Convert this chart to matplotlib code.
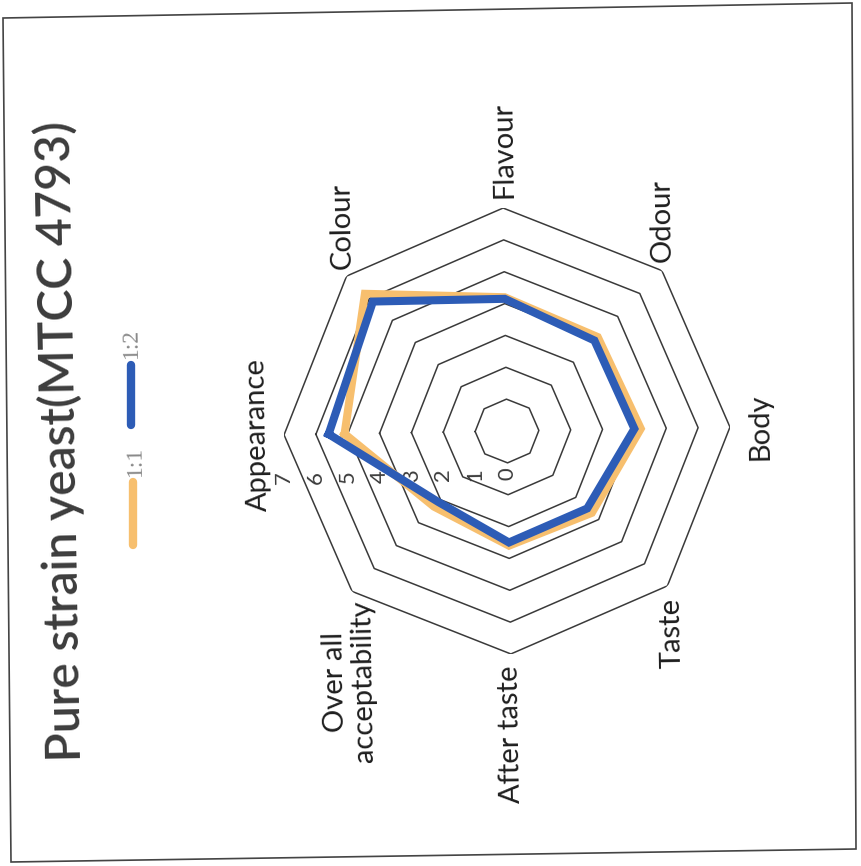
import numpy as np
import matplotlib
matplotlib.use('Agg')
import matplotlib.pyplot as plt
from matplotlib.lines import Line2D
from matplotlib.patches import Polygon

# Data

CATEGORIES = ["Appearance", "Colour", "Flavour", "Odour", "Body", "Taste",
              "After taste", "Over all\nacceptability"]
SERIES_NAMES = ["1:1", "1:2"]
VALUES_11 = [5.1, 6.2, 4.2, 4.1, 4.2, 3.7, 3.6, 3.3]
VALUES_12 = [5.6, 5.85, 4.15, 3.95, 4.0, 3.5, 3.5, 3.1]
RING_VALUES = [1, 2, 3, 4, 5, 6, 7]
TICK_LABELS = ["0", "1", "2", "3", "4", "5", "6", "7"]
TITLE = "Pure strain yeast(MTCC 4793)"

ORANGE = "#F7BF6E"
BLUE = "#2D5CB6"
SKEW = 1.0  # scan tilt, degrees

plt.rcParams['font.family'] = ['Lato', 'DejaVu Sans']

fig = plt.figure(figsize=(8.61, 8.66), dpi=100)
W, H = 861.0, 866.0

# radar axes, centre ~ (507, 431) px, r=7 -> 223 px
cx, cy, R = 507 / W, 1 - 431 / H, 223.0
ax = fig.add_axes([cx - R / W, cy - R / H, 2 * R / W, 2 * R / H],
                  projection='polar')
ax.set_theta_offset(np.pi + np.deg2rad(SKEW))
ax.set_theta_direction(-1)
ax.set_ylim(0, 7)
ax.grid(False)
ax.spines['polar'].set_visible(False)
ax.set_xticks([])
ax.set_yticks([])
ax.patch.set_alpha(0)

n = len(CATEGORIES)
theta = np.linspace(0, 2 * np.pi, n, endpoint=False)
theta_c = np.append(theta, theta[0])

for rv in RING_VALUES:
    ax.plot(theta_c, [rv] * (n + 1), color="#3a3a3a", lw=1.1, zorder=1)

ax.plot(theta_c, VALUES_11 + VALUES_11[:1], color=ORANGE, lw=5.8,
        solid_joinstyle='miter', zorder=3)
ax.plot(theta_c, VALUES_12 + VALUES_12[:1], color=BLUE, lw=5.8,
        solid_joinstyle='miter', zorder=4)

# category labels (offsets in pixels from the outer vertex)
offsets = [(-26, 0), (-5, 50), (0, 58), (0, 50), (30, 0), (5, -47),
           (0, -80), (-3, -90)]
for th, lab, (dx, dy) in zip(theta, CATEGORIES, offsets):
    ax.annotate(lab, xy=(th, 7), xytext=(dx, dy), textcoords='offset pixels',
                ha='center', va='center', rotation=90 + SKEW,
                multialignment='center', fontsize=21, color="#1e1e1e",
                linespacing=1.1, annotation_clip=False)

# radial tick labels along the Appearance axis
for i, t in enumerate(TICK_LABELS):
    ax.annotate(t, xy=(theta[0], i), xytext=(0, -43),
                textcoords='offset pixels', ha='center', va='center',
                rotation=90 + SKEW, fontsize=16, color="#3c3c3c",
                annotation_clip=False)

# title
fig.text(61 / W, 1 - 441 / H, TITLE, rotation=90 + SKEW, ha='center',
         va='center', fontsize=34.5, color="#3c3c3c", fontweight='semibold')

# legend, drawn vertically like the rotated original
leg = [(ORANGE, 133, 482, 545, 135, 461), (BLUE, 131, 365, 425, 131, 343)]
for (col, lx, y0, y1, tx, ty), name in zip(leg, SERIES_NAMES):
    fig.add_artist(Line2D([lx / W, lx / W], [1 - y0 / H, 1 - y1 / H],
                          color=col, lw=6, solid_capstyle='round'))
    fig.text(tx / W, 1 - ty / H, name, rotation=90 + SKEW, ha='center',
             va='center', fontsize=17, color="#8a8a8a",
             family=['Liberation Serif', 'DejaVu Serif'])

# scanned frame
frame = [(3, 18), (852, 3), (856, 849), (11, 862)]
fig.add_artist(Polygon([(x / W, 1 - y / H) for x, y in frame], closed=True,
                       fill=False, edgecolor="#444444", lw=1.2,
                       transform=fig.transFigure))

fig.savefig("out.png", dpi=100)
